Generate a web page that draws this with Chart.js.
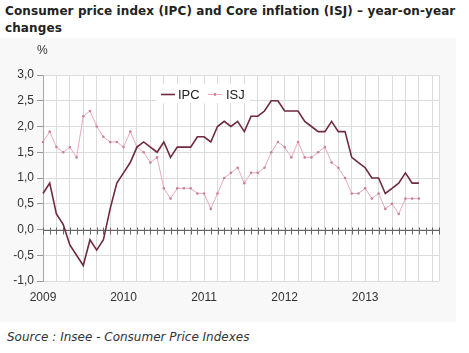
<!DOCTYPE html>
<html><head><meta charset="utf-8">
<script src="https://cdn.jsdelivr.net/npm/chart.js@4"></script>
<style>
body{margin:0;background:#fff;width:469px;height:353px;overflow:hidden;position:relative}
#title{position:absolute;left:5px;top:3px;width:462px;font:bold 12px "DejaVu Sans",Verdana,sans-serif;line-height:17px;color:#222;letter-spacing:0.1px}
#box{position:absolute;left:0;top:38px;width:456px;height:284px;background:#f8f8f8}
#pct{position:absolute;left:37px;top:43px;font:12px "Liberation Sans",Arial,sans-serif;color:#333}
#src{position:absolute;left:7px;top:330px;font:italic 12px "DejaVu Sans",Verdana,sans-serif;color:#333}
canvas{position:absolute;left:0;top:0}
</style></head><body>
<div id="title">Consumer price index (IPC) and Core inflation (ISJ) – year-on-year changes</div>
<div id="box"><canvas id="c" width="456" height="284"></canvas></div>
<div id="pct">%</div>
<div id="src">Source : Insee - Consumer Price Indexes</div>
<script>
const years = ['2009','2010','2011','2012','2013'];
const monthNames = ['Jan','Feb','Mar','Apr','May','Jun','Jul','Aug','Sep','Oct','Nov','Dec'];
const months = [];
years.forEach(y => monthNames.forEach(m => months.push(m + ' ' + y)));
const ipc = [0.7,0.9,0.3,0.1,-0.3,-0.5,-0.7,-0.2,-0.4,-0.2,0.4,0.9,
             1.1,1.3,1.6,1.7,1.6,1.5,1.7,1.4,1.6,1.6,1.6,1.8,
             1.8,1.7,2.0,2.1,2.0,2.1,1.9,2.2,2.2,2.3,2.5,2.5,
             2.3,2.3,2.3,2.1,2.0,1.9,1.9,2.1,1.9,1.9,1.4,1.3,
             1.2,1.0,1.0,0.7,0.8,0.9,1.1,0.9,0.9];
const isj = [1.7,1.9,1.6,1.5,1.6,1.4,2.2,2.3,2.0,1.8,1.7,1.7,
             1.6,1.9,1.6,1.5,1.3,1.4,0.8,0.6,0.8,0.8,0.8,0.7,
             0.7,0.4,0.7,1.0,1.1,1.2,0.9,1.1,1.1,1.2,1.5,1.7,
             1.6,1.4,1.7,1.4,1.4,1.5,1.6,1.3,1.2,1.0,0.7,0.7,
             0.8,0.6,0.7,0.4,0.5,0.3,0.6,0.6,0.6];
const yTicks = [-1.0,-0.5,0.0,0.5,1.0,1.5,2.0,2.5,3.0];
const seriesNames = ['IPC','ISJ'];
const colIPC = '#6e2a3e', colISJ = '#eaa9c0', colISJdot = '#c9819b';

const bgPlugin = {
  id:'bg',
  beforeDraw(chart){
    const {ctx, chartArea:a} = chart;
    ctx.save(); ctx.fillStyle='#fff';
    ctx.fillRect(a.left,a.top,a.right-a.left,a.bottom-a.top); ctx.restore();
  }
};
const zeroPlugin = {
  id:'zero',
  beforeDatasetsDraw(chart){
    const {ctx, chartArea:a, scales} = chart;
    const y0 = Math.round(scales.y.getPixelForValue(0)) + 0.5;
    ctx.save(); ctx.strokeStyle='#666'; ctx.lineWidth=1;
    ctx.beginPath(); ctx.moveTo(a.left,y0); ctx.lineTo(a.right,y0);
    for(let i=0;i<months.length;i++){
      const x = Math.round(scales.x.getPixelForValue(i))+0.5;
      ctx.moveTo(x,y0-3); ctx.lineTo(x,y0+4);
    }
    ctx.stroke(); ctx.restore();
  }
};
const legendPlugin = {
  id:'lg',
  afterDatasetsDraw(chart){
    const {ctx} = chart;
    const top = 84-38;
    ctx.save();
    ctx.fillStyle='#fff'; ctx.fillRect(157,top,93,19);
    const cy = top+10;
    ctx.lineWidth=1.6; ctx.strokeStyle=colIPC;
    ctx.beginPath(); ctx.moveTo(161,cy+0.5); ctx.lineTo(175,cy+0.5); ctx.stroke();
    ctx.lineWidth=1; ctx.strokeStyle=colISJ;
    ctx.beginPath(); ctx.moveTo(208,cy+0.5); ctx.lineTo(222,cy+0.5); ctx.stroke();
    ctx.fillStyle=colISJdot; ctx.beginPath(); ctx.arc(215,cy+0.5,1.4,0,Math.PI*2); ctx.fill();
    ctx.fillStyle='#222'; ctx.font='13px "Liberation Sans", Arial, sans-serif';
    ctx.textBaseline='middle';
    ctx.fillText(seriesNames[0],178,cy+1);
    ctx.fillText(seriesNames[1],226,cy+1);
    ctx.restore();
  }
};

new Chart(document.getElementById('c'), {
  type:'line',
  data:{
    labels: months,
    datasets:[
      {label:seriesNames[0], data: ipc, borderColor: colIPC, borderWidth:1.6, pointRadius:0, tension:0},
      {label:seriesNames[1], data: isj, borderColor: colISJ, borderWidth:1, pointRadius:1.3,
       pointBackgroundColor: colISJdot, pointBorderWidth:0, tension:0}
    ]
  },
  options:{
    responsive:false, animation:false, devicePixelRatio:1,
    layout:{padding:{left:0,right:17,top:37,bottom:0}},
    plugins:{legend:{display:false}, tooltip:{enabled:false}},
    scales:{
      x:{
        offset:false,
        grid:{offset:false, drawTicks:false,
          color: c => (c.index%2===0 || c.index===months.length-1) ? '#dcdcdc' : 'rgba(0,0,0,0)'},
        border:{display:false},
        ticks:{autoSkip:false, maxRotation:0, padding:9, color:'#333',
          font:{family:'"Liberation Sans", Arial, sans-serif', size:12},
          callback:(v,i) => i%12===0 ? years[i/12] : ''},
        afterFit: s => { s.height = 41; }
      },
      y:{
        min:-1, max:3,
        afterBuildTicks: s => { s.ticks = yTicks.map(v=>({value:v})); },
        grid:{color:'#dcdcdc', tickColor:'#999', tickLength:6},
        border:{display:true, color:'#aaa'},
        ticks:{padding:3, color:'#333',
          font:{family:'"Liberation Sans", Arial, sans-serif', size:12},
          callback: v => v.toFixed(1).replace('.',',')},
        afterFit: s => { s.width = 43; }
      }
    }
  },
  plugins:[bgPlugin, zeroPlugin, legendPlugin]
});
</script>
</body></html>
